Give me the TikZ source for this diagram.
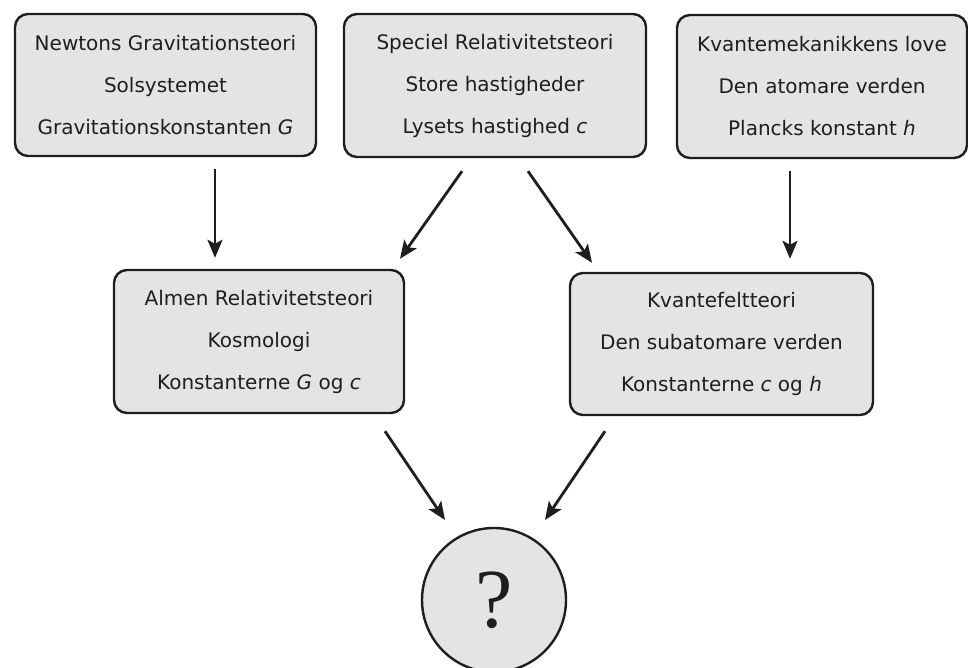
\documentclass[tikz,border=0pt]{standalone}
\usepackage{fontspec}
\setmainfont{DejaVu Sans}
\newfontfamily\qfont{Liberation Serif}
\usetikzlibrary{arrows.meta}
\definecolor{boxfill}{HTML}{E4E4E2}
\definecolor{ink}{HTML}{1E1E1E}
\begin{document}
\begin{tikzpicture}[x=1pt,y=-1pt,
  box/.style={draw=ink,line width=2.4pt,fill=boxfill,rounded corners=13pt,
    align=center,inner sep=0pt,text=ink,font=\fontsize{20}{42}\selectfont},
  arr/.style={draw=ink,line width=2.8pt,-{Stealth[length=18pt,width=15pt,inset=4pt]}}]
\useasboundingbox (0,0) rectangle (968,668);
\fill[white] (0,0) rectangle (968,668);
\node[box,minimum width=301pt,minimum height=142pt] (b1) at (165.5,85)
  {Newtons Gravitationsteori\\Solsystemet\\Gravitationskonstanten \textit{G}};
\node[box,minimum width=302pt,minimum height=143pt] (b2) at (495,85.5)
  {Speciel Relativitetsteori\\Store hastigheder\\Lysets hastighed \textit{c}};
\node[box,minimum width=290pt,minimum height=143pt] (b3) at (822,86.5)
  {Kvantemekanikkens love\\Den atomare verden\\Plancks konstant \textit{h}};
\node[box,minimum width=290pt,minimum height=143pt] (b4) at (259,341.5)
  {Almen Relativitetsteori\\Kosmologi\\Konstanterne \textit{G} og \textit{c}};
\node[box,minimum width=303pt,minimum height=142pt] (b5) at (721.5,344)
  {Kvantefeltteori\\Den subatomare verden\\Konstanterne \textit{c} og \textit{h}};
\node[draw=ink,line width=2.4pt,fill=boxfill,circle,minimum size=144pt,inner sep=0pt,
  text=ink,font=\qfont\fontsize{84}{86}\selectfont] (q) at (494,600) {?};
\draw[arr] ([shift={(49.5pt,-12pt)}]b1.south) -- ([shift={(-44pt,11pt)}]b4.north);
\draw[arr] ([shift={(-33pt,-13pt)}]b2.south) -- ([shift={(141pt,10pt)}]b4.north);
\draw[arr] ([shift={(33pt,-13pt)}]b2.south) -- ([shift={(-129.5pt,9pt)}]b5.north);
\draw[arr] ([shift={(-32pt,-12pt)}]b3.south) -- ([shift={(68.5pt,13pt)}]b5.north);
\draw[arr] ([shift={(126pt,-17pt)}]b4.south) -- ([shift={(-49pt,80pt)}]q.center);
\draw[arr] ([shift={(-116.5pt,-15pt)}]b5.south) -- ([shift={(51pt,80pt)}]q.center);
\end{tikzpicture}
\end{document}
